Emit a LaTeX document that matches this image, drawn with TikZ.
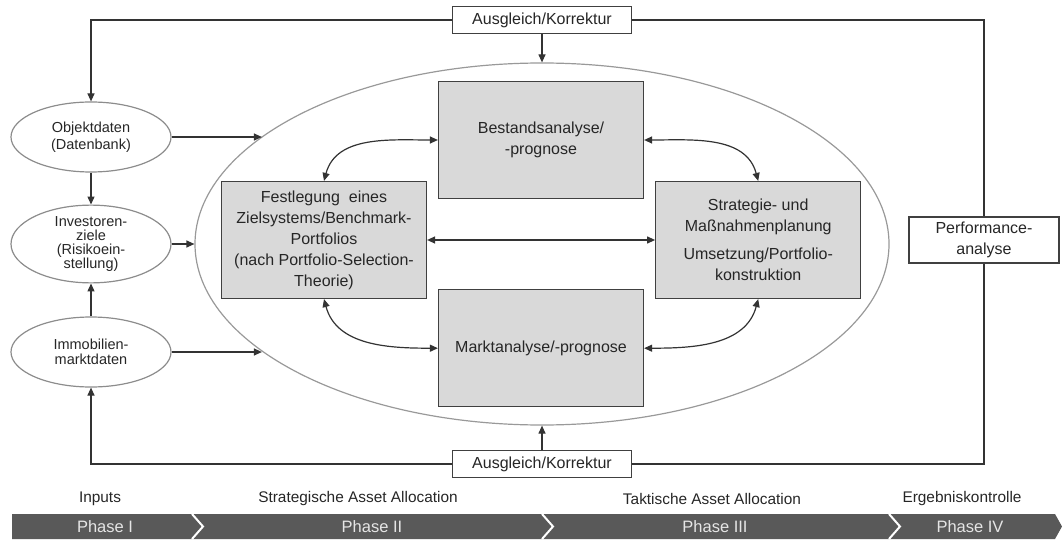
\documentclass[tikz,border=0pt]{standalone}
\usepackage{fontspec}
\setmainfont{Liberation Sans}
\usepackage{tikz}
\usetikzlibrary{positioning, shapes.geometric, arrows.meta}

\begin{document}
\begin{tikzpicture}[
    x=1pt, y=1pt,
    every node/.style={font=\fontsize{16}{21}\selectfont, text=black!85},
    box style/.style={draw=black!75, fill=black!15, line width=1.2pt, minimum width=205pt, minimum height=117pt, align=center, inner sep=2pt},
    korr style/.style={draw=black!75, fill=white, line width=1.2pt, minimum width=179pt, minimum height=27pt, inner sep=0pt, align=center},
    input style/.style={ellipse, draw=black!45, line width=1.2pt, minimum width=160pt, minimum height=70pt, inner sep=0pt, align=center, font=\fontsize{14.5}{15.5}\selectfont},
    link/.style={draw=black!80, line width=1.2pt},
    arrow/.style={link, -{Triangle[length=8pt,width=7pt]}},
    both/.style={link, {Triangle[length=8pt,width=7pt]}-{Triangle[length=8pt,width=7pt]}},
    phase style/.style={font=\fontsize{16.5}{18}\selectfont, text=black!10},
    title style/.style={font=\fontsize{15.4}{17}\selectfont}
  ]
  \useasboundingbox (0,0) rectangle (1062,539);

  % Core cycle
  \node[ellipse, draw=black!40, line width=1.2pt, minimum width=694pt, minimum height=362pt, inner sep=0pt] (hub) at (542,295) {};
  \node[box style] (bestand) at (541,399)       {Bestandsanalyse/\\-prognose};
  \node[box style] (fest) at (324,299)          {Festlegung~ eines\\Zielsystems/Benchmark-\\Portfolios\\(nach Portfolio-Selection-\\Theorie)};
  \node[box style, right=228pt of fest] (strat) {Strategie- und\\Maßnahmenplanung\\[7pt]Umsetzung/Portfolio-\\konstruktion};
  \node[box style, below=90pt of bestand] (markt) {Marktanalyse/-prognose};

  % Feedback
  \node[korr style] (korrtop) at (542,519)      {Ausgleich/Korrektur};
  \node[korr style] (korrbot) at (542,75)       {Ausgleich/Korrektur};
  \node[korr style, minimum width=150pt, minimum height=46pt] (perf) at (984,299) {Performance-\\analyse};

  % Inputs
  \node[input style, font=\fontsize{14.5}{16.5}\selectfont] (objekt) at (91,402) {Objektdaten\\(Datenbank)};
  \node[input style, font=\fontsize{14.5}{14}\selectfont] (inv) at (91,295) {Investoren-\\ziele\\(Risikoein-\\stellung)};
  \node[input style] (immo) at (91,187)         {Immobilien-\\marktdaten};

  % Connectors
  \draw[arrow] (korrtop.west) -| (objekt.north);
  \draw[link] (korrtop.east) -| (perf.north);
  \draw[link] (perf.south) |- (korrbot.east);
  \draw[arrow] (korrbot.west) -| (immo.south);
  \draw[arrow] (korrtop.south) -- (hub.north);
  \draw[arrow] (korrbot.north) -- (hub.south);

  \draw[arrow] (objekt.south) -- (inv.north);
  \draw[arrow] (immo.north) -- (inv.south);
  \draw[arrow] (objekt.east) -- (objekt.east -| hub.159);
  \draw[arrow] (inv.east) -- (hub.west);
  \draw[arrow] (immo.east) -- (immo.east -| hub.201);

  \draw[both] (fest.north) to[out=75, in=180] (bestand.west);
  \draw[both] (bestand.east) to[out=0, in=105] (strat.north);
  \draw[both] (fest.south) to[out=-75, in=180] (markt.west);
  \draw[both] (markt.east) to[out=0, in=-105] (strat.south);
  \draw[both] (fest.east) -- (strat.west);

  % Phase bar
  \fill[black!65] (12,0) -- (12,25) -- (1055,25) -- (1062,12.5) -- (1055,0) -- cycle;
  \draw[white, line width=2pt] (192,25) -- (203,12.5) -- (192,0);
  \draw[white, line width=2pt] (542,25) -- (553,12.5) -- (542,0);
  \draw[white, line width=2pt] (889,25) -- (900,12.5) -- (889,0);

  \node[phase style] (p1) at (105,12)  {Phase I};
  \node[phase style] (p2) at (372,12)  {Phase II};
  \node[phase style] (p3) at (715,12)  {Phase III};
  \node[phase style] (p4) at (970,12)  {Phase IV};

  \node[title style] (t1) at (100,40)  {Inputs};
  \node[title style] (t2) at (358,40)  {Strategische Asset Allocation};
  \node[title style] (t3) at (712,40)  {Taktische Asset Allocation};
  \node[title style] (t4) at (962,40)  {Ergebniskontrolle};

\end{tikzpicture}
\end{document}
